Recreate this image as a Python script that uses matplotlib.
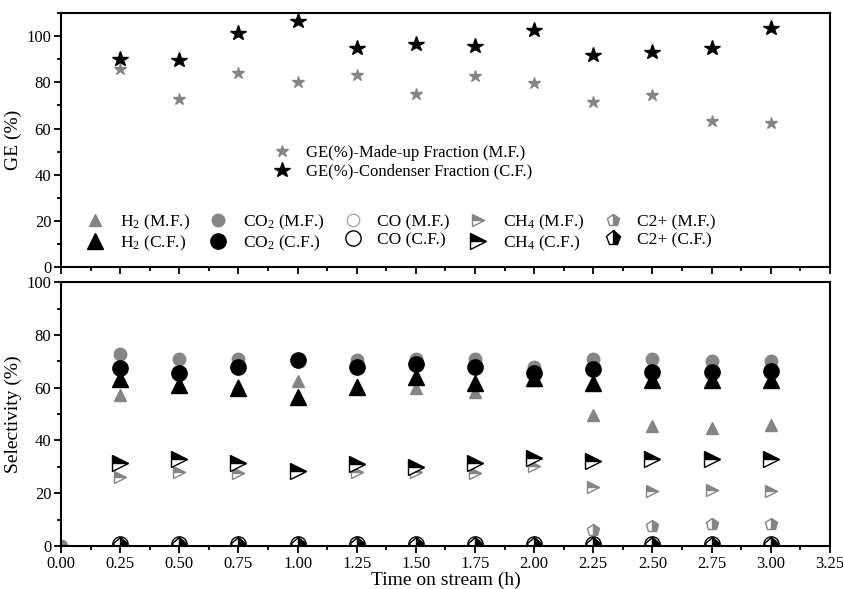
import numpy as np
import matplotlib
matplotlib.use('Agg')
import matplotlib.pyplot as plt
from matplotlib.pyplot import MultipleLocator

plt.rcParams['font.family'] = ['Liberation Serif', 'DejaVu Serif']
plt.rcParams['mathtext.fontset'] = 'custom'
plt.rcParams['mathtext.rm'] = 'Liberation Serif'
plt.rcParams['mathtext.default'] = 'regular'

# time on stream (h)
t = [0.25, 0.50, 0.75, 1.00, 1.25, 1.50, 1.75, 2.00, 2.25, 2.50, 2.75, 3.00]

# gas efficiency (%)
ge_mf = [85.7, 73.0, 84.1, 80.2, 83.1, 74.9, 82.7, 79.8, 71.3, 74.5, 63.3, 62.6]
ge_cf = [90.3, 89.6, 101.6, 106.6, 95.0, 96.8, 95.8, 102.6, 91.8, 93.2, 95.1, 103.6]

# selectivity (%) - made-up fraction
h2_mf = [57.3, 61.0, 61.0, 62.7, 61.0, 59.8, 58.5, 63.0, 49.7, 45.6, 44.9, 45.9]
co2_mf = [72.8, 70.8, 70.8, 70.3, 70.5, 70.8, 70.8, 67.8, 70.8, 70.8, 70.0, 70.2]
co_mf = [1.0, 1.0, 1.0, 1.0, 1.0, 1.0, 1.0, 1.0, 1.0, 1.0, 1.0, 1.0]
ch4_mf = [26.0, 28.2, 27.6, 28.0, 28.2, 27.9, 27.8, 30.3, 22.5, 21.0, 21.2, 21.0]
c2_mf = [0.3, 0.3, 0.3, 0.3, 0.3, 0.3, 0.3, 0.3, 6.0, 7.6, 8.2, 8.2]

# selectivity (%) - condenser fraction
h2_cf = [63.2, 61.0, 59.8, 56.6, 60.2, 64.2, 61.7, 63.6, 61.7, 63.0, 63.0, 63.0]
co2_cf = [67.4, 65.7, 68.0, 70.5, 67.9, 69.0, 68.0, 65.7, 67.0, 66.1, 66.1, 66.4]
co_cf = [0.8, 0.8, 0.8, 0.8, 0.8, 0.8, 0.8, 0.8, 0.8, 0.8, 0.8, 0.8]
ch4_cf = [31.6, 32.9, 31.4, 28.4, 31.0, 29.8, 31.4, 33.2, 32.2, 32.9, 32.9, 32.9]
c2_cf = [0.2, 0.2, 0.2, 0.2, 0.2, 0.2, 0.2, 0.2, 0.2, 0.2, 0.2, 0.2]

grey = '#858585'

fig = plt.figure(figsize=(8.43, 5.89), dpi=100)
ax1 = fig.add_axes([0.0724, 0.5467, 0.912, 0.431])
ax2 = fig.add_axes([0.0724, 0.073, 0.912, 0.448])

# top panel
s1, = ax1.plot(t, ge_mf, ls='none', marker='*', ms=9, color=grey, mec=grey)
s2, = ax1.plot(t, ge_cf, ls='none', marker='*', ms=11.5, color='k')
leg1 = ax1.legend([s1, s2], ['GE(%)-Made-up Fraction (M.F.)', 'GE(%)-Condenser Fraction (C.F.)'],
                  loc='center left', bbox_to_anchor=(0.266, 0.413), frameon=False,
                  fontsize=12, handlelength=1.0, handletextpad=0.9, borderpad=0,
                  labelspacing=0.15)
ax1.add_artist(leg1)

# bottom panel
def sel(ax, y, marker, color, ms, fill):
    if fill == 'none':
        return ax.plot(t, y, ls='none', marker=marker, ms=ms, mfc='white', mec=color,
                       mew=1.0)[0]
    return ax.plot(t, y, ls='none', marker=marker, ms=ms, color=color, mec=color,
                   fillstyle=fill, mfcalt='white', mew=1.0)[0]

h = []
h.append(sel(ax2, h2_mf, '^', grey, 9, 'full'))
h.append(sel(ax2, h2_cf, '^', 'k', 11, 'full'))
h.append(sel(ax2, co2_mf, 'o', grey, 9, 'full'))
h.append(sel(ax2, co2_cf, 'o', 'k', 11, 'full'))
h.append(sel(ax2, co_mf, 'o', '#aaaaaa', 9, 'none'))
h.append(sel(ax2, co_cf, 'o', 'k', 11, 'none'))
h.append(sel(ax2, ch4_mf, '>', grey, 9, 'top'))
h.append(sel(ax2, ch4_cf, '>', 'k', 11, 'top'))
h.append(sel(ax2, c2_mf, 'p', grey, 9, 'right'))
h.append(sel(ax2, c2_cf, 'p', 'k', 11, 'right'))
ax2.plot([0.0], [0.0], ls='none', marker='o', ms=9, color=grey)

labels = ['H$_2$ (M.F.)', 'H$_2$ (C.F.)', 'CO$_2$ (M.F.)', 'CO$_2$ (C.F.)',
          'CO (M.F.)', 'CO (C.F.)', 'CH$_4$ (M.F.)', 'CH$_4$ (C.F.)',
          'C2+ (M.F.)', 'C2+ (C.F.)']
ax1.legend(h, labels, ncol=5, loc='center left', bbox_to_anchor=(0.022, 0.134),
           frameon=False, fontsize=12.5, handlelength=1.0, handletextpad=0.9,
           columnspacing=1.15, borderpad=0, labelspacing=0.1)

for ax in (ax1, ax2):
    ax.set_xlim(0, 3.25)
    ax.xaxis.set_major_locator(MultipleLocator(0.25))
    ax.xaxis.set_minor_locator(MultipleLocator(0.125))
    ax.tick_params(which='both', direction='out', top=False, right=False,
                   labelsize=12, width=1.3)
    ax.tick_params(which='major', length=5, pad=2)
    ax.tick_params(which='minor', length=3)
    for sp in ax.spines.values():
        sp.set_linewidth(1.5)

ax1.set_ylim(0, 110)
ax1.yaxis.set_major_locator(MultipleLocator(20))
ax1.yaxis.set_minor_locator(MultipleLocator(10))
ax1.tick_params(axis='x', labelbottom=False)
ax1.set_ylabel('GE (%)', fontsize=14, labelpad=3)

ax2.set_ylim(0, 100)
ax2.yaxis.set_major_locator(MultipleLocator(20))
ax2.yaxis.set_minor_locator(MultipleLocator(10))
ax2.set_xticks(np.arange(0, 3.26, 0.25))
ax2.set_xticklabels(['%.2f' % v for v in np.arange(0, 3.26, 0.25)])
ax2.set_ylabel('Selectivity (%)', fontsize=14, labelpad=3)
ax2.set_xlabel('Time on stream (h)', fontsize=14, labelpad=0)

fig.savefig('out.png', dpi=100)
